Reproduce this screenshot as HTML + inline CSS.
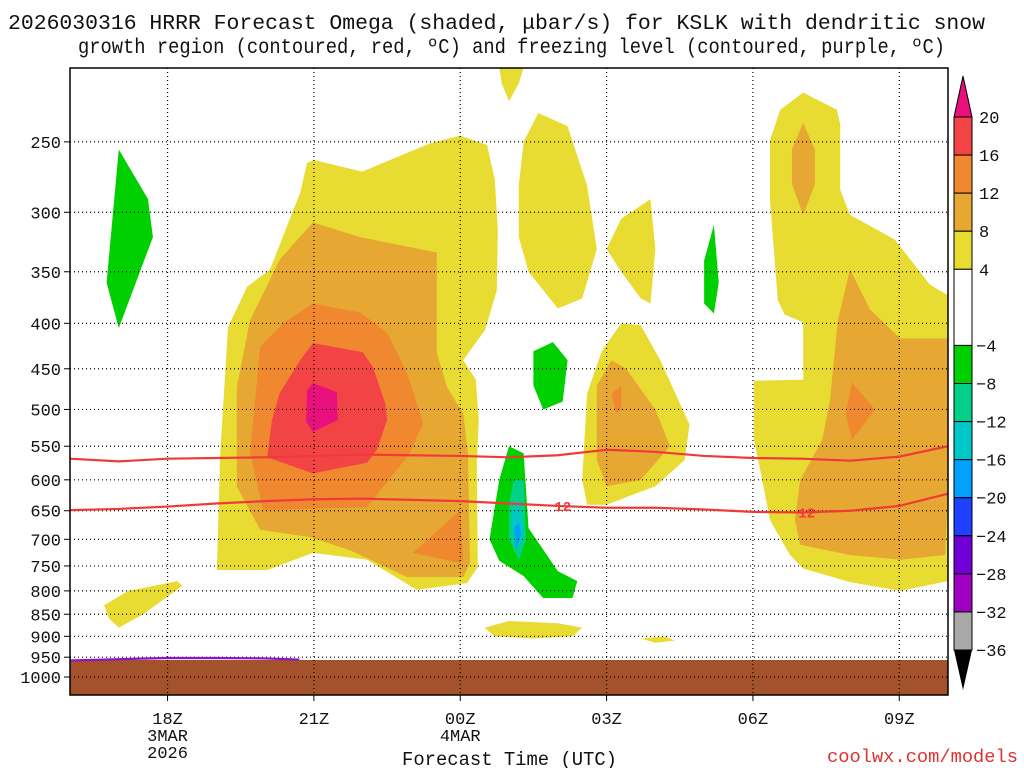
<!DOCTYPE html>
<html><head><meta charset="utf-8"><style>
body{margin:0;background:#fff;width:1024px;height:768px;overflow:hidden}
svg{display:block}
text{font-family:"Liberation Mono",monospace;fill:#111}
</style></head><body>
<svg id="chart" width="1024" height="768">
<text x="8" y="29" font-size="21" textLength="977" lengthAdjust="spacingAndGlyphs">2026030316 HRRR Forecast Omega (shaded, μbar/s) for KSLK with dendritic snow</text>
<text x="78" y="53" font-size="21" textLength="867" lengthAdjust="spacingAndGlyphs">growth region (contoured, red, ºC) and freezing level (contoured, purple, ºC)</text>
<defs><clipPath id="clip"><rect x="70" y="68" width="878" height="627"/></clipPath></defs>
<g id="plot" clip-path="url(#clip)"></g>
<g id="axes"></g>
<g id="cbar"></g>
<text x="402" y="765" font-size="19" textLength="215" lengthAdjust="spacingAndGlyphs">Forecast Time (UTC)</text>
<text x="827" y="762" font-size="18" textLength="191" lengthAdjust="spacingAndGlyphs" style="fill:#e03030">coolwx.com/models</text>
</svg>
<script>
const NS="http://www.w3.org/2000/svg";
// ---- data ----
const pressureTicks=[250,300,350,400,450,500,550,600,650,700,750,800,850,900,950,1000];
const timeTickHours=[2,5,8,11,14,17];
const timeTickLabels=[["18Z","3MAR","2026"],["21Z"],["00Z","4MAR"],["03Z"],["06Z"],["09Z"]];
const cbarLevels=[20,16,12,8,4,-4,-8,-12,-16,-20,-24,-28,-32,-36];
const cbarColors=["#f24444","#f08830","#e6a832","#e8dc32","#ffffff","#00d000","#00d088","#00c8c8","#00a0ff","#2040ff","#7000d8","#a000c0","#a8a8a8"];
// shaded regions: [level-colour, [[hour,pressure],...]]
const regions=[
["#e8dc32",[[4.86,264],[5.0,262],[5.99,270],[7.38,251],[8.0,246],[8.55,252],[8.71,276],[8.77,314],[8.75,367],[8.51,407],[8.06,440],[8.32,463],[8.38,514],[8.34,574],[8.36,752],[8.14,784],[7.11,798],[6.09,738],[4.98,725],[4.04,758],[3.01,758],[3.08,560],[3.24,404],[3.63,364],[4.1,348],[4.72,285]]],
["#e8dc32",[[8.8,206],[9.3,206],[9.2,215],[9.0,225],[8.85,215]]],
["#e8dc32",[[9.2,280],[9.3,250],[9.6,232],[10.2,240],[10.6,280],[10.8,330],[10.5,375],[10.0,385],[9.4,350],[9.2,320]]],
["#e8dc32",[[11.0,330],[11.3,305],[11.9,290],[12.0,330],[11.9,380],[11.7,375],[11.3,350]]],
["#e8dc32",[[10.5,600],[10.6,480],[10.9,430],[11.3,400],[11.7,402],[12.1,440],[12.7,520],[12.6,570],[12.0,610],[11.0,640],[10.6,640]]],
["#e8dc32",[[15.03,220],[15.72,230],[15.79,239],[15.79,283],[15.99,302],[16.91,322],[17.63,362],[18,372],[18,780],[17.02,800],[15.99,782],[15.03,755],[14.76,729],[14.35,666],[14.15,585],[14.02,541],[14.02,464],[15.03,463],[15.03,399],[14.65,391],[14.51,377],[14.35,291],[14.35,249],[14.56,230]]],
["#e8dc32",[[0.7,830],[1.2,800],[2.2,780],[2.3,790],[1.5,850],[1.0,880],[0.8,860]]],
["#e8dc32",[[8.5,880],[9.0,865],[10.0,870],[10.5,880],[10.3,900],[9.5,905],[8.7,900]]],
["#e8dc32",[[11.7,905],[12.2,900],[12.4,910],[12.0,915]]],
["#e6a832",[[4.98,308],[5.95,320],[7.52,333],[7.52,432],[7.73,472],[8.06,505],[8.16,560],[8.2,744],[8.06,772],[6.91,772],[5.74,720],[4.92,696],[3.9,683],[3.42,611],[3.42,472],[3.69,397],[4.3,339]]],
["#e6a832",[[10.8,570],[10.8,470],[11.1,440],[11.4,450],[12.0,500],[12.3,550],[11.7,600],[11.0,610]]],
["#e6a832",[[15.99,348],[16.4,386],[17.02,416],[18,416],[18,616],[17.94,729],[17.02,738],[15.99,729],[14.97,710],[14.86,666],[14.97,600],[15.42,541],[15.58,488],[15.74,397]]],
["#e6a832",[[15.03,238],[15.27,255],[15.27,279],[15.03,302],[14.8,279],[14.8,255]]],
["#f08830",[[4.98,380],[5.95,389],[6.5,410],[6.91,455],[7.24,518],[6.97,560],[6.09,644],[3.96,649],[3.69,560],[3.9,425],[4.37,400]]],
["#f08830",[[8.0,649],[8.06,738],[8.0,744],[7.03,725]]],
["#f08830",[[16.03,466],[16.5,500],[16.03,541],[15.9,507]]],
["#f08830",[[11.1,480],[11.3,470],[11.3,500],[11.2,505]]],
["#f24444",[[4.98,421],[6.0,431],[6.21,448],[6.46,492],[6.5,514],[6.29,555],[6.09,574],[4.98,590],[4.04,566],[4.14,514],[4.3,479],[4.72,440]]],
["#e8107c",[[4.98,467],[5.47,478],[5.49,514],[4.98,530],[4.84,516],[4.86,476]]],
["#00d000",[[0.75,360],[1.0,255],[1.6,290],[1.7,320],[1.0,405]]],
["#00d000",[[9.5,430],[9.9,420],[10.2,440],[10.1,490],[9.7,500],[9.5,470]]],
["#00d000",[[8.6,700],[8.8,600],[9.0,550],[9.3,560],[9.4,680],[10.0,760],[10.4,780],[10.3,815],[9.7,815],[9.3,770],[8.8,740]]],
["#00d000",[[13.0,340],[13.2,310],[13.3,360],[13.2,390],[13.0,380]]],
["#00d088",[[9.0,640],[9.1,600],[9.3,600],[9.35,700],[9.2,740],[9.0,700]]],
["#00c8c8",[[9.05,660],[9.2,630],[9.3,690],[9.15,720]]],
["#00a0ff",[[9.1,680],[9.2,670],[9.25,690],[9.15,720]]]
];
const lineHours=[0,1,2,3,4,5,6,7,8,9,10,11,12,13,14,15,16,17,18];
const dgzTop=[568,572,568,567,566,564,562,563,564,566,563,555,558,564,567,568,571,565,550];
const dgzBottom=[649,647,643,638,634,631,630,632,634,638,642,645,645,648,652,653,650,642,622];
const frzHours=[0,1,2,3,4,4.7];
const frzP=[958,955,952,952,953,956];
// ---- axes functions ----
const X0=70,X1=948,PX=48.78;
const xs=h=>X0+h*PX;
const ys=p=>677-386*Math.log(1000/p);
function el(tag,attrs,parent){const e=document.createElementNS(NS,tag);for(const k in attrs)e.setAttribute(k,attrs[k]);parent.appendChild(e);return e;}
const plot=document.getElementById('plot'),axes=document.getElementById('axes'),cb=document.getElementById('cbar');
regions.forEach((r,i)=>{
 const e=el('polygon',{points:r[1].map(q=>xs(q[0])+','+ys(q[1])).join(' '),fill:r[0]},plot);
 
 
});
const g=el('rect',{x:70,y:660,width:878,height:35,fill:'#a4522c'},plot);


pressureTicks.forEach(p=>{
 const y=ys(p);
 const l=el('line',{x1:X0,x2:X1,y1:y,y2:y,stroke:'#000','stroke-dasharray':'1,3','stroke-width':1.2},plot);
 
 
 el('line',{x1:X0-6,x2:X0,y1:y,y2:y,stroke:'#000'},axes);
 const t=el('text',{x:61,y:y+6,'font-size':17,'text-anchor':'end'},axes);t.textContent=p;
 
 
});
timeTickHours.forEach((h,i)=>{
 const x=xs(h);
 const l=el('line',{x1:x,x2:x,y1:68,y2:695,stroke:'#000','stroke-dasharray':'1,3','stroke-width':1.2},plot);
 
 
 el('line',{x1:x,x2:x,y1:695,y2:701,stroke:'#000'},axes);
 timeTickLabels[i].forEach((s,j)=>{const t=el('text',{x:x,y:724+j*17,'font-size':17,'text-anchor':'middle'},axes);t.textContent=s;
 
 });
});
function line(hs,ps,col,name){
 const e=el('polyline',{points:hs.map((h,i)=>xs(h)+','+ys(ps[i])).join(' '),fill:'none',stroke:col,'stroke-width':2.2},plot);
 
 
}
line(lineHours,dgzTop,'#f03a3a','dgz-top-line');
line(lineHours,dgzBottom,'#f03a3a','dgz-bottom-line');
line(frzHours,frzP,'#9010d0','freezing-level-line');
[10,15].forEach(h=>{const y=ys(dgzBottom[h]);
 const t=el('text',{x:xs(h)+5,y:y+5,'font-size':14,'font-weight':'bold','text-anchor':'middle',style:'fill:#f03a3a'},plot);t.textContent='12';
 
 });
const fr=el('rect',{x:70,y:68,width:878,height:627,fill:'none',stroke:'#000','stroke-width':1.5},axes);


// colorbar
const CX=954,CW=18,cy=v=>117+(20-v)*(650-117)/56;
el('polygon',{points:`${CX},117 ${CX+CW},117 ${CX+CW/2},76`,fill:'#e8107c',stroke:'#000'},cb);
cbarColors.forEach((c,i)=>{
 const y0=cy(cbarLevels[i]),y1=cy(cbarLevels[i+1]);
 const r=el('rect',{x:CX,y:y0,width:CW,height:y1-y0,fill:c,stroke:'#000'},cb);
 
 
});
el('polygon',{points:`${CX},650 ${CX+CW},650 ${CX+CW/2},690`,fill:'#000'},cb);
cbarLevels.forEach(v=>{const t=el('text',{x:v<0?976:979,y:cy(v)+6,'font-size':17},cb);t.textContent=v<0?'\u2212'+(-v):v;
 
 });
</script>
</body></html>
